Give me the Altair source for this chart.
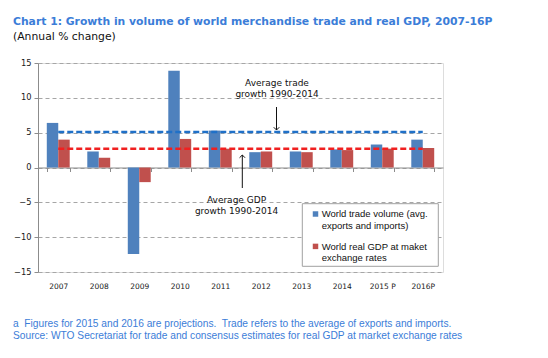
import altair as alt
import pandas as pd

# ---------------- data ----------------
years = ["2007", "2008", "2009", "2010", "2011", "2012", "2013", "2014", "2015 P", "2016P"]
trade = [6.4, 2.3, -12.4, 13.9, 5.3, 2.2, 2.3, 2.6, 3.3, 4.0]
gdp = [4.0, 1.4, -2.1, 4.1, 2.7, 2.3, 2.2, 2.5, 2.7, 2.8]
series = ["World trade volume (avg. exports and imports)",
          "World real GDP at maket exchange rates"]
legend_lines = [["World trade volume (avg.", "exports and imports)"],
                ["World real GDP at maket", "exchange rates"]]
avg_names = ["Average trade growth 1990-2014", "Average GDP growth 1990-2014"]
avg_values = [5.1, 2.7]
annot_trade = ["Average trade", "growth 1990-2014"]
annot_gdp = ["Average GDP", "growth 1990-2014"]
y_ticks = [-15, -10, -5, 0, 5, 10, 15]
title_text = "Chart 1: Growth in volume of world merchandise trade and real GDP, 2007-16P"
subtitle_text = "(Annual % change)"
footnotes = ["a\u00a0 Figures for 2015 and 2016 are projections.\u00a0 Trade refers to the average of exports and imports.",
             "Source: WTO Secretariat for trade and consensus estimates for real GDP at market exchange rates"]

# ---------------- styles ----------------
bar_colors = ["#4F81BD", "#C0504D"]
avg_colors = ["#1F70C8", "#F02020"]
blue_text = "#3B7DD8"
W, H = 405, 209

rows = []
for i, yv in enumerate(years):
    rows.append({"year": yv, "series": series[0], "value": trade[i]})
    rows.append({"year": yv, "series": series[1], "value": gdp[i]})
df = pd.DataFrame(rows)

avg_rows = []
for n, v in zip(avg_names, avg_values):
    for yv in years:
        avg_rows.append({"year": yv, "name": n, "value": v})
avg_df = pd.DataFrame(avg_rows)

one = pd.DataFrame({"k": [0]})

xscale = alt.Scale(domain=years, paddingInner=0.434, paddingOuter=0.217)
yscale = alt.Scale(domain=[-15, 15], nice=False, zero=False)

x_axis = alt.Axis(orient="bottom", offset=-104.5, domainColor="#8C8C8C",
                  tickColor="#8C8C8C", tickBand="extent", tickSize=4,
                  labelPadding=111, labelFont="DejaVu Sans", labelFontSize=7.5,
                  labelColor="#1A1A1A", labelAngle=0, grid=False, title=None)
y_axis = alt.Axis(values=y_ticks, grid=True, gridDash=[4, 3], gridColor="#A6A6A6",
                  domainColor="#8C8C8C", tickColor="#8C8C8C", tickSize=4,
                  labelPadding=3, labelFont="DejaVu Sans", labelFontSize=8.3,
                  labelColor="#1A1A1A", title=None)

bars = alt.Chart(df).mark_bar().encode(
    x=alt.X("year:N", scale=xscale, sort=years, title=None, axis=x_axis),
    xOffset=alt.XOffset("series:N", sort=series,
                        scale=alt.Scale(paddingInner=0, paddingOuter=0)),
    y=alt.Y("value:Q", scale=yscale, title=None, axis=y_axis),
    color=alt.Color("series:N", scale=alt.Scale(domain=series, range=bar_colors), legend=None),
)

avg_lines = alt.Chart(avg_df).mark_line(strokeDash=[6, 3], strokeWidth=2.5).encode(
    x=alt.X("year:N", scale=xscale, sort=years, title=None, axis=x_axis),
    y=alt.Y("value:Q", scale=yscale, title=None, axis=y_axis),
    color=alt.Color("name:N", scale=alt.Scale(domain=avg_names, range=avg_colors), legend=None),
    detail="name:N",
)

# annotations
ann_font = dict(font="DejaVu Sans", fontSize=9, align="center", baseline="alphabetic",
                lineHeight=11, color="#111111")
ann1 = alt.Chart(one).mark_text(**ann_font).encode(
    x=alt.value(239), y=alt.value(23), text=alt.value(annot_trade))
ann2 = alt.Chart(one).mark_text(**ann_font).encode(
    x=alt.value(198.5), y=alt.value(140), text=alt.value(annot_gdp))
arrow1 = alt.Chart(one).mark_rule(color="#111111", strokeWidth=1).encode(
    x=alt.value(238.5), y=alt.value(44), y2=alt.value(67))
head1 = alt.Chart(one).mark_point(shape="M-1,-1L0,0L1,-1", filled=False, color="#111111",
                                  strokeWidth=1, size=30, opacity=1).encode(
    x=alt.value(238.5), y=alt.value(67))
arrow2 = alt.Chart(one).mark_rule(color="#111111", strokeWidth=1).encode(
    x=alt.value(204.3), y=alt.value(92), y2=alt.value(125))
head2 = alt.Chart(one).mark_point(shape="M-1,1L0,0L1,1", filled=False, color="#111111",
                                  strokeWidth=1, size=30, opacity=1).encode(
    x=alt.value(204.3), y=alt.value(92))

# legend
legend_box = alt.Chart(one).mark_rect(fill="white", stroke="#A0A0A0", strokeWidth=1).encode(
    x=alt.value(264.3), x2=alt.value(400.3), y=alt.value(140.7), y2=alt.value(203.3))
legend_layers = [legend_box]
for i in range(2):
    legend_layers.append(alt.Chart(one).mark_square(size=30, color=bar_colors[i], opacity=1).encode(
        x=alt.value(277.5), y=alt.value(151 + 32.4 * i)))
    legend_layers.append(alt.Chart(one).mark_text(font="Liberation Sans", fontSize=9.5, align="left",
                                                  baseline="alphabetic", lineHeight=11.8,
                                                  color="#111111").encode(
        x=alt.value(283.7), y=alt.value(154 + 32.6 * i), text=alt.value(legend_lines[i])))

notes = alt.Chart(one).mark_text(font="Liberation Sans", fontSize=10.2, align="left",
                                 baseline="alphabetic", lineHeight=12, color=blue_text).encode(
    x=alt.value(-25), y=alt.value(264), text=alt.value(footnotes))

chart = alt.layer(bars, avg_lines, ann1, ann2, arrow1, head1, arrow2, head2,
                  *legend_layers, notes).resolve_scale(color="independent").properties(
    width=W, height=H,
    autosize=alt.AutoSizeParams(type="none"),
    padding={"left": 30, "top": 55, "right": 97, "bottom": 78},
    title=alt.TitleParams(text=title_text, subtitle=subtitle_text, anchor="start", frame="group",
                          dx=-25, offset=16, font="DejaVu Sans", fontSize=10.8, fontWeight="bold",
                          color=blue_text, subtitleFont="DejaVu Sans", subtitleFontSize=10.8,
                          subtitleColor="#111111", subtitlePadding=4),
).configure_view(strokeWidth=0).configure(background="white")

chart.save("out.html", embed_options={"renderer": "svg", "actions": False})
